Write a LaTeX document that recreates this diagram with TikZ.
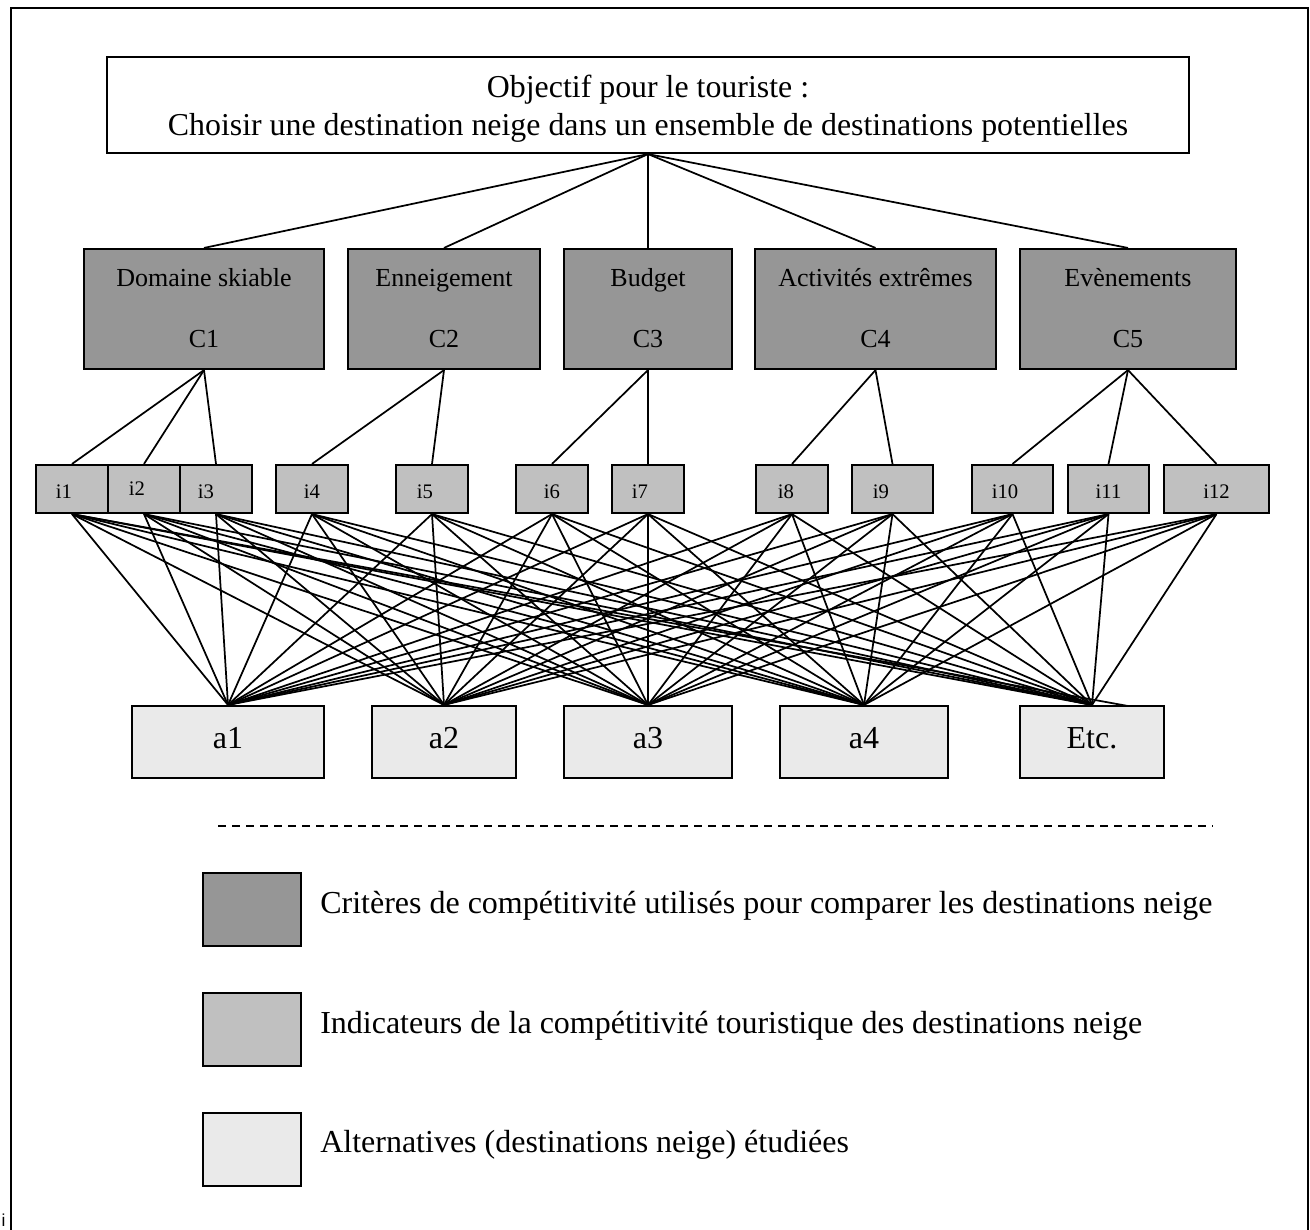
\documentclass[tikz,border=0pt]{standalone}
\usepackage{fontspec}
\setmainfont{Liberation Serif}
\newfontfamily\sansf{Liberation Sans}
\definecolor{critgray}{HTML}{969696}
\definecolor{indgray}{HTML}{C0C0C0}
\definecolor{altgray}{HTML}{EAEAEA}
\begin{document}
\begin{tikzpicture}[x=0.75pt,y=-0.75pt,
  box/.style={draw, line width=1.6pt, inner sep=0pt},
  topbox/.style={box, fill=white, minimum width=811.5pt, minimum height=72pt},
  crit/.style={box, fill=critgray, minimum height=90pt},
  ind/.style={box, fill=indgray, minimum height=36pt, minimum width=54pt},
  alt/.style={box, fill=altgray, minimum height=54pt},
  leg/.style={box, minimum width=73.5pt, minimum height=54.75pt},
  link/.style={line width=1.3pt},
  txt/.style={anchor=base, inner sep=0pt},
  toptxt/.style={txt, font=\fontsize{23.9}{28}\selectfont},
  crittxt/.style={txt, font=\fontsize{19.5}{23}\selectfont},
  indtxt/.style={txt, font=\fontsize{15.5}{18}\selectfont},
  alttxt/.style={txt, font=\fontsize{24}{28}\selectfont},
  legtxt/.style={anchor=base west, inner sep=0pt, font=\fontsize{24}{28}\selectfont}]
\useasboundingbox (0,0) rectangle (1310,1229);
% frame
\draw[line width=1.6pt] (11,1240) -- (11,8) -- (1308,8) -- (1308,1240);
\node[txt, font=\sansf\fontsize{13}{16}\selectfont] (stray) at (3.5,1226) {i};
% top box
\node[topbox] (top) at (648,105) {};
\node[toptxt] (topl1) at (648,97) {Objectif pour le touriste :};
\node[toptxt] (topl2) at (648,135) {Choisir une destination neige dans un ensemble de destinations potentielles};
% criteria
\node[crit, minimum width=180pt] (c1) at (204,309) {};
\node[crit, minimum width=144pt] (c2) at (444,309) {};
\node[crit, minimum width=126pt] (c3) at (648,309) {};
\node[crit, minimum width=180.75pt] (c4) at (875.5,309) {};
\node[crit, minimum width=162pt] (c5) at (1128,309) {};
\node[crittxt] (c1n) at (204,286) {Domaine skiable};
\node[crittxt] (c2n) at (444,286) {Enneigement};
\node[crittxt] (c3n) at (648,286) {Budget};
\node[crittxt] (c4n) at (875.5,286) {Activités extrêmes};
\node[crittxt] (c5n) at (1128,286) {Evènements};
\node[crittxt] (c1c) at (204,347) {C1};
\node[crittxt] (c2c) at (444,347) {C2};
\node[crittxt] (c3c) at (648,347) {C3};
\node[crittxt] (c4c) at (875.5,347) {C4};
\node[crittxt] (c5c) at (1128,347) {C5};
% indicators
\node[ind] (i1) at (72,489) {};
\node[ind] (i2) at (144,489) {};
\node[ind] (i3) at (216,489) {};
\node[ind] (i4) at (312,489) {};
\node[ind] (i5) at (432,489) {};
\node[ind] (i6) at (552,489) {};
\node[ind] (i7) at (648,489) {};
\node[ind] (i8) at (792,489) {};
\node[ind, minimum width=60.75pt] (i9) at (892.5,489) {};
\node[ind, minimum width=60.75pt] (i10) at (1012.5,489) {};
\node[ind, minimum width=60.75pt] (i11) at (1108.5,489) {};
\node[ind, minimum width=78.75pt] (i12) at (1216.5,489) {};
\node[indtxt] (t1) at (64,498) {i1};
\node[indtxt] (t2) at (137,495) {i2};
\node[indtxt] (t3) at (206,498) {i3};
\node[indtxt] (t4) at (312,498) {i4};
\node[indtxt] (t5) at (425,498) {i5};
\node[indtxt] (t6) at (552,498) {i6};
\node[indtxt] (t7) at (640,498) {i7};
\node[indtxt] (t8) at (786,498) {i8};
\node[indtxt] (t9) at (881,498) {i9};
\node[indtxt] (t10) at (1005,498) {i10};
\node[indtxt] (t11) at (1108.5,498) {i11};
\node[indtxt] (t12) at (1216.5,498) {i12};
% alternatives
\node[alt, minimum width=144pt] (a1) at (228,742) {};
\node[alt, minimum width=108pt] (a2) at (444,742) {};
\node[alt, minimum width=126pt] (a3) at (648,742) {};
\node[alt, minimum width=126pt] (a4) at (864,742) {};
\node[alt, minimum width=108pt] (a5) at (1092,742) {};
\node[alttxt] (a1t) at (228,748) {a1};
\node[alttxt] (a2t) at (444,748) {a2};
\node[alttxt] (a3t) at (648,748) {a3};
\node[alttxt] (a4t) at (864,748) {a4};
\node[alttxt] (a5t) at (1092,748) {Etc.};
% links top -> criteria
\foreach \c in {c1,c2,c3,c4,c5} \draw[link] (top.south) -- (\c.north);
% criteria -> indicators
\foreach \c/\i in {c1/i1,c1/i2,c1/i3,c2/i4,c2/i5,c3/i6,c3/i7,c4/i8,c4/i9,c5/i10,c5/i11,c5/i12}
  \draw[link] (\c.south) -- (\i.north);
% indicators -> alternatives
\foreach \i in {1,...,12}
  \foreach \a in {a1,a2,a3,a4,a5}
    \draw[link] (i\i.south) -- (\a.north);
\coordinate (extra) at (1128,706);
\draw[link] (i1.south) -- (extra);
% dashed separator
\coordinate (dl) at (218,826);
\coordinate (dr) at (1213,826);
\draw[line width=1.2pt, dash pattern=on 6pt off 4.5pt] (dl) -- (dr);
% legend
\node[leg, fill=critgray] (l1) at (252,909.5) {};
\node[leg, fill=indgray] (l2) at (252,1029.5) {};
\node[leg, fill=altgray] (l3) at (252,1149.5) {};
\node[legtxt] (l1t) at (320,913) {Critères de compétitivité utilisés pour comparer les destinations neige};
\node[legtxt] (l2t) at (320,1033) {Indicateurs de la compétitivité touristique des destinations neige};
\node[legtxt] (l3t) at (320,1152) {Alternatives (destinations neige) étudiées};
\end{tikzpicture}
\end{document}
